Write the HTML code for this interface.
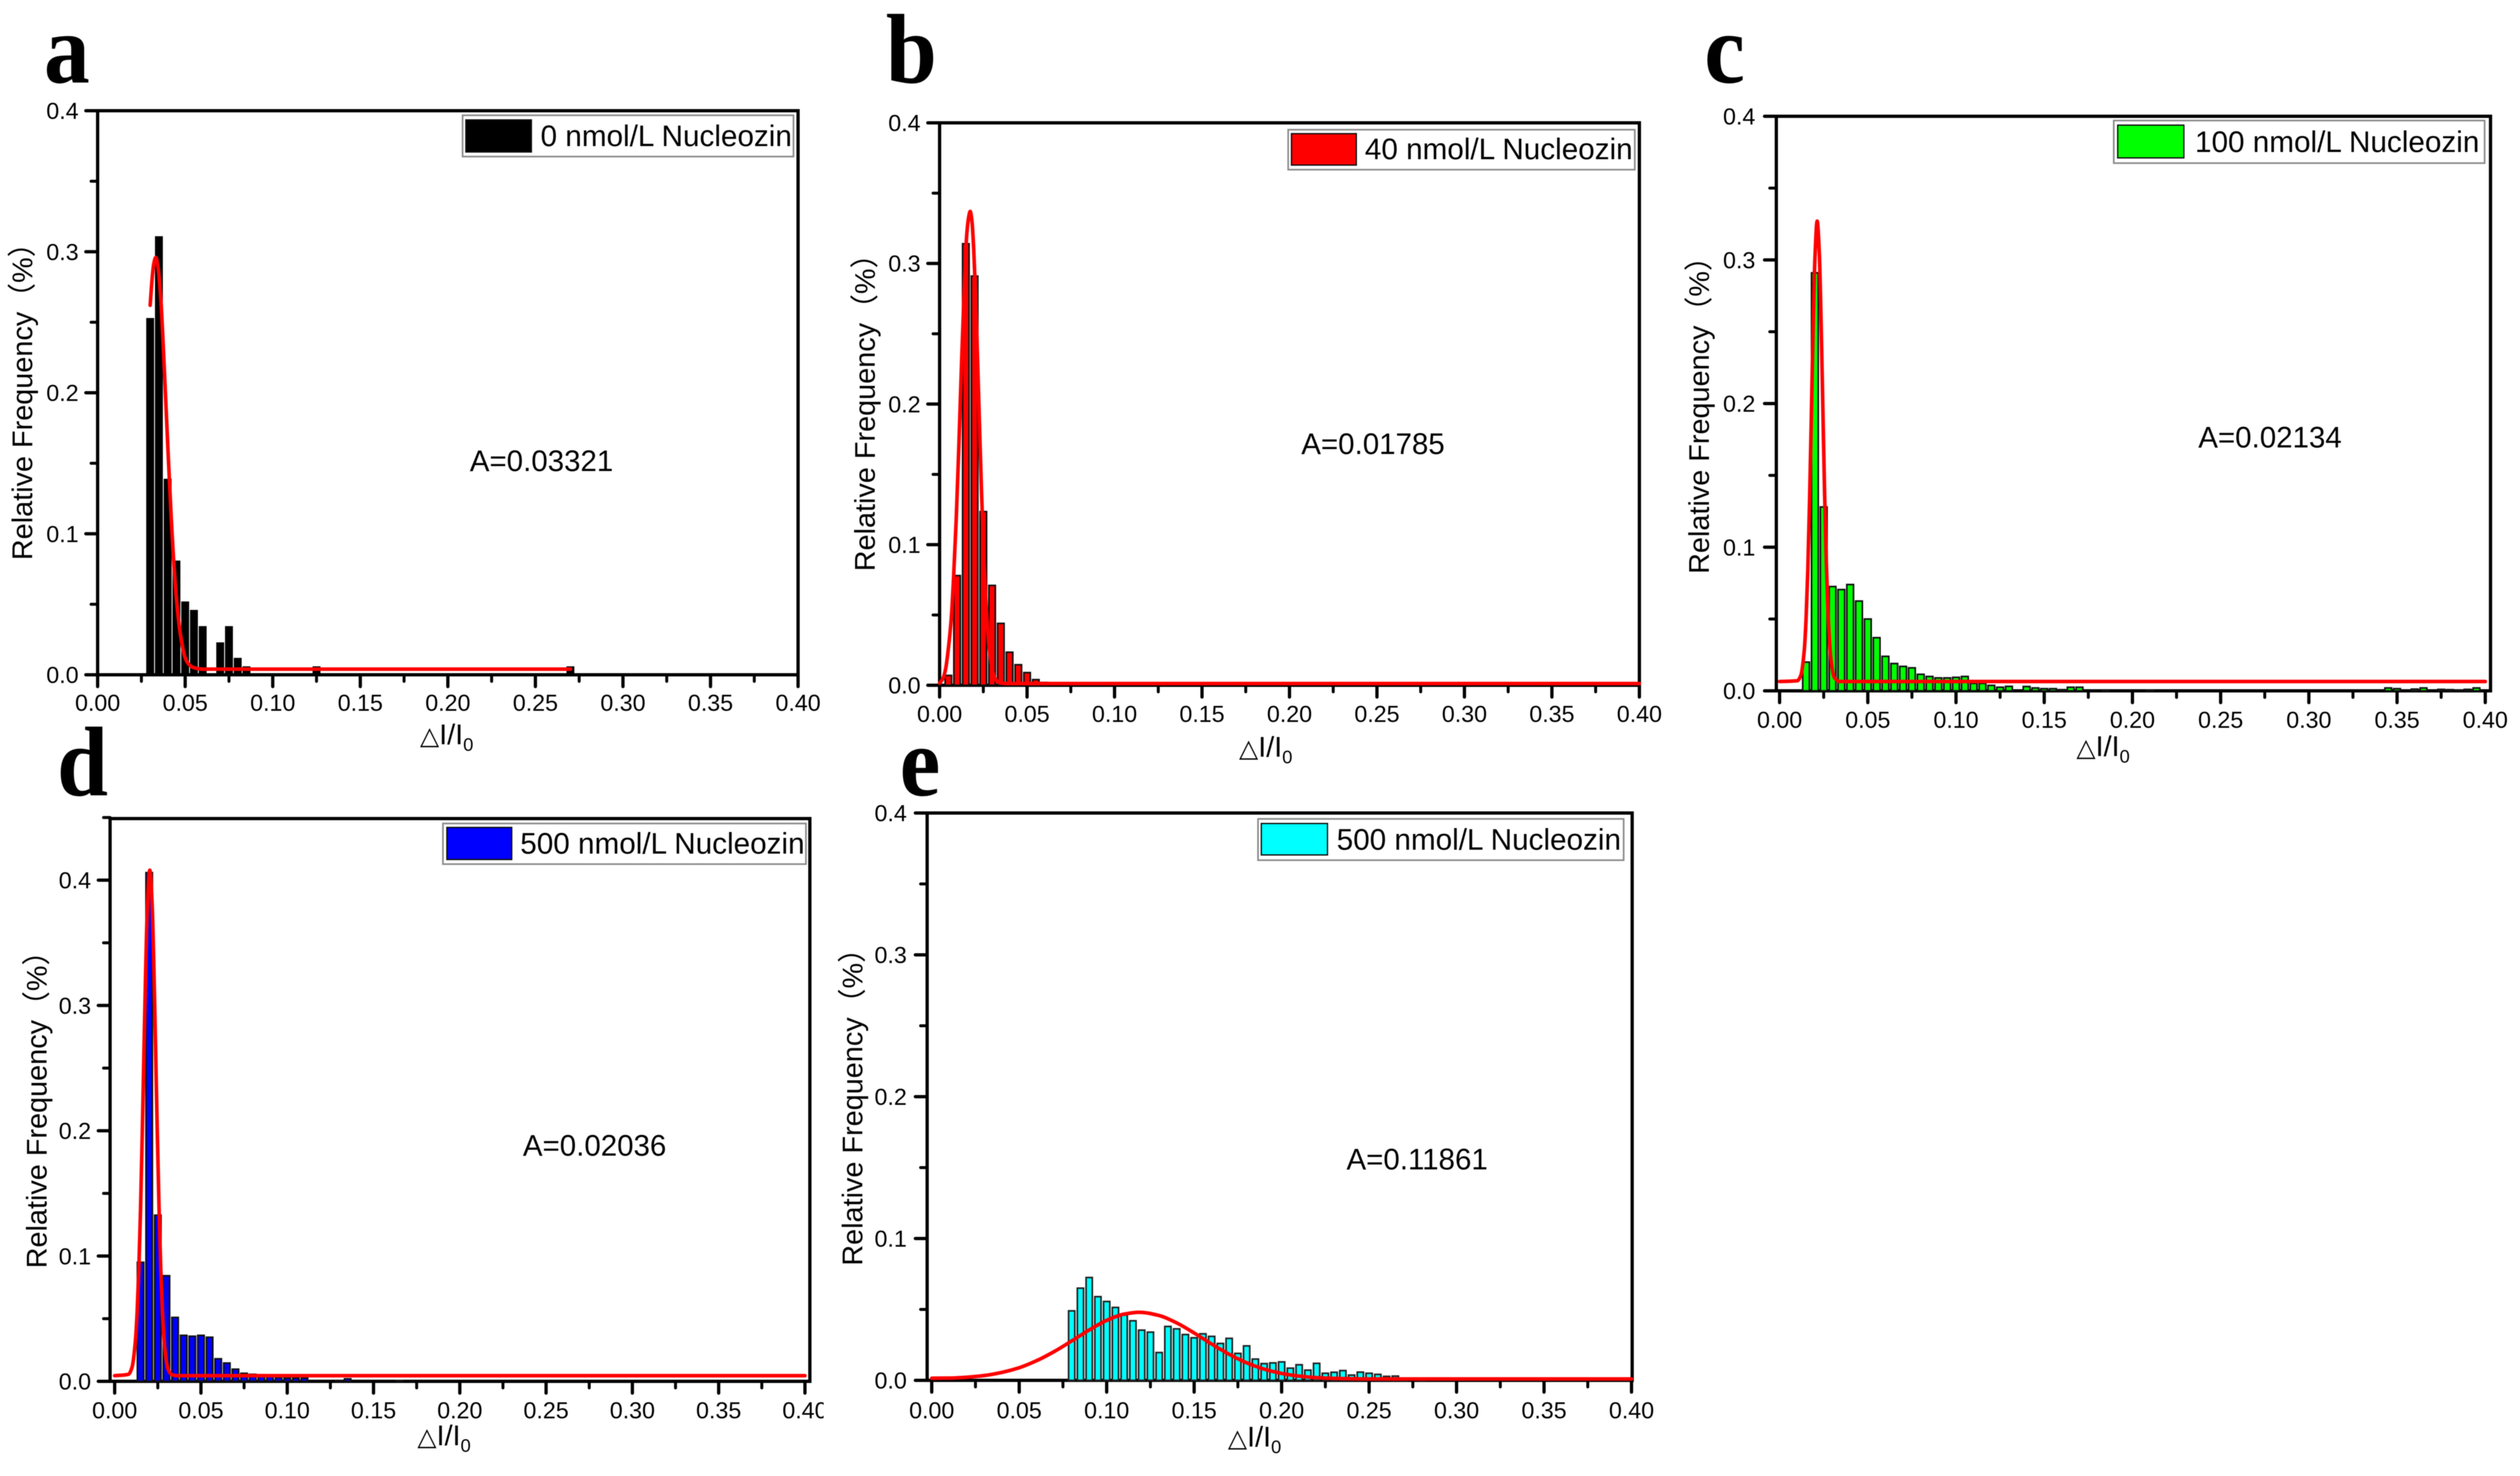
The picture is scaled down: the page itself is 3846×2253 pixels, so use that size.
<!DOCTYPE html>
<html lang="en">
<head>
<meta charset="utf-8">
<title>Relative frequency histograms of delta I / I0 at different Nucleozin concentrations</title>
<style>
html,body{margin:0;padding:0;background:#fff;}
svg{display:block;filter:blur(0.6px);}
text{font-family:"Liberation Sans","Noto Sans CJK SC",sans-serif;fill:#000;}
.letter{font-family:"Liberation Serif",serif;font-weight:bold;font-size:140px;fill:#000;}
.axis-title{font-size:44px;}
.legend-text{font-size:45.3px;}
.note{font-size:45px;}
.tick{font-size:35.5px;}
.sub{font-size:28px;}
.tri{font-family:"DejaVu Sans",sans-serif;font-size:38px;}
.legend-box{fill:#fff;stroke:#8a8a8a;stroke-width:2.5;}
.swatch{stroke:#111;stroke-width:2;}
</style>
</head>
<body>
<svg xmlns="http://www.w3.org/2000/svg" width="3846" height="2253" viewBox="0 0 3846 2253">
<rect x="0" y="0" width="3846" height="2253" fill="#fff"/>

<g>
  <g id="plot-a"></g>
  <text class="letter" transform="translate(67,126) scale(1,1.08)">a</text>
  <text class="axis-title" transform="translate(49,855) rotate(-90)">Relative Frequency（%）</text>
  <text class="axis-title" x="641" y="1136"><tspan class="tri">△</tspan>I/I<tspan class="sub" dy="10">0</tspan></text>
  <rect class="legend-box" x="706" y="176" width="505" height="63"/>
  <rect class="swatch" x="711" y="183" width="100" height="49" fill="#000"/>
  <text class="legend-text" x="825" y="223">0 nmol/L Nucleozin</text>
  <text class="note" x="717" y="719">A=0.03321</text>
</g>

<g>
  <g id="plot-b"></g>
  <text class="letter" transform="translate(1352,126) scale(1,1.08)">b</text>
  <text class="axis-title" transform="translate(1335,872) rotate(-90)">Relative Frequency（%）</text>
  <text class="axis-title" x="1891" y="1155"><tspan class="tri">△</tspan>I/I<tspan class="sub" dy="10">0</tspan></text>
  <rect class="legend-box" x="1966" y="198" width="529" height="61"/>
  <rect class="swatch" x="1971" y="204" width="99" height="48" fill="#ff0000"/>
  <text class="legend-text" x="2083" y="243">40 nmol/L Nucleozin</text>
  <text class="note" x="1986" y="693">A=0.01785</text>
</g>

<g>
  <g id="plot-c"></g>
  <text class="letter" transform="translate(2601,126) scale(1,1.08)">c</text>
  <text class="axis-title" transform="translate(2608,876) rotate(-90)">Relative Frequency（%）</text>
  <text class="axis-title" x="3169" y="1154"><tspan class="tri">△</tspan>I/I<tspan class="sub" dy="10">0</tspan></text>
  <rect class="legend-box" x="3226" y="184" width="566" height="65"/>
  <rect class="swatch" x="3232" y="191" width="101" height="50" fill="#00ff00"/>
  <text class="legend-text" x="3350" y="232">100 nmol/L Nucleozin</text>
  <text class="note" x="3355" y="683">A=0.02134</text>
</g>

<g>
  <g id="plot-d"></g>
  <rect x="1257" y="2125" width="50" height="60" fill="#fff"/>
  <text class="letter" transform="translate(87,1214) scale(1,1.08)">d</text>
  <text class="axis-title" transform="translate(71,1936) rotate(-90)">Relative Frequency（%）</text>
  <text class="axis-title" x="637" y="2206"><tspan class="tri">△</tspan>I/I<tspan class="sub" dy="10">0</tspan></text>
  <rect class="legend-box" x="676" y="1257" width="554" height="62"/>
  <rect class="swatch" x="682" y="1263" width="99" height="49" fill="#0000ff"/>
  <text class="legend-text" x="794" y="1303">500 nmol/L Nucleozin</text>
  <text class="note" x="798" y="1764">A=0.02036</text>
</g>

<g>
  <g id="plot-e"></g>
  <text class="letter" transform="translate(1373,1214) scale(1,1.08)">e</text>
  <text class="axis-title" transform="translate(1316,1932) rotate(-90)">Relative Frequency（%）</text>
  <text class="axis-title" x="1874" y="2208"><tspan class="tri">△</tspan>I/I<tspan class="sub" dy="10">0</tspan></text>
  <rect class="legend-box" x="1920" y="1250" width="558" height="63"/>
  <rect class="swatch" x="1925" y="1257" width="101" height="48" fill="#00ffff"/>
  <text class="legend-text" x="2040" y="1297">500 nmol/L Nucleozin</text>
  <text class="note" x="2055" y="1785">A=0.11861</text>
</g>
</svg>

<script>
// ---- shared axis data ----
const xTickValues = [0, 0.05, 0.10, 0.15, 0.20, 0.25, 0.30, 0.35, 0.40];
const xTickLabels = ['0.00', '0.05', '0.10', '0.15', '0.20', '0.25', '0.30', '0.35', '0.40'];
const xMinorValues = [0.025, 0.075, 0.125, 0.175, 0.225, 0.275, 0.325, 0.375];
const yTickValues = [0, 0.1, 0.2, 0.3, 0.4];
const yTickLabels = ['0.0', '0.1', '0.2', '0.3', '0.4'];
const yMinorValues = [0.05, 0.15, 0.25, 0.35];
const yMinorValuesD = [0.05, 0.15, 0.25, 0.35, 0.45];
const binWidth = 0.005;

// ---- panel a ----
const binsA = [0.03, 0.035, 0.04, 0.045, 0.05, 0.055, 0.06, 0.07, 0.075, 0.08, 0.085, 0.125, 0.27];
const freqA = [0.253, 0.311, 0.139, 0.081, 0.052, 0.046, 0.0345, 0.023, 0.0345, 0.012, 0.006, 0.006, 0.006];
const fitXA = [0.03, 0.031, 0.032, 0.0332, 0.0345, 0.036, 0.038, 0.04, 0.042, 0.044, 0.046, 0.048, 0.05, 0.052, 0.055, 0.06, 0.27];
const fitYA = [0.262, 0.279, 0.291, 0.296, 0.289, 0.268, 0.219, 0.164, 0.112, 0.07, 0.041, 0.023, 0.012, 0.0075, 0.005, 0.004, 0.004];

// ---- panel b ----
const binsB = [0.005, 0.01, 0.015, 0.02, 0.025, 0.03, 0.035, 0.04, 0.045, 0.05, 0.055, 0.06];
const freqB = [0.007, 0.078, 0.314, 0.291, 0.1235, 0.071, 0.044, 0.0235, 0.0146, 0.009, 0.004, 0.002];
const fitXB = [0, 0.002, 0.0035, 0.005, 0.0067, 0.008, 0.0095, 0.011, 0.0125, 0.014, 0.0155, 0.0165, 0.0175, 0.0185, 0.0195, 0.0205, 0.0215, 0.0225, 0.024, 0.0255, 0.027, 0.0285, 0.03, 0.032, 0.035, 0.04, 0.40];
const fitYB = [0.0015, 0.005, 0.012, 0.026, 0.048, 0.077, 0.118, 0.17, 0.227, 0.279, 0.32, 0.332, 0.337, 0.33, 0.31, 0.28, 0.24, 0.198, 0.136, 0.085, 0.048, 0.025, 0.012, 0.004, 0.0015, 0.0012, 0.0012];

// ---- panel c ----
const binsC = [0.015, 0.02, 0.025, 0.03, 0.035, 0.04, 0.045, 0.05, 0.055, 0.06, 0.065, 0.07, 0.075, 0.08, 0.085, 0.09, 0.095, 0.10, 0.105, 0.11, 0.115, 0.12, 0.125, 0.13, 0.14, 0.145, 0.15, 0.155, 0.16, 0.165, 0.17, 0.185, 0.21, 0.345, 0.35, 0.36, 0.365, 0.375, 0.38, 0.385, 0.39, 0.395];
const freqC = [0.02, 0.291, 0.128, 0.0726, 0.0705, 0.074, 0.0625, 0.05, 0.037, 0.024, 0.019, 0.017, 0.016, 0.0115, 0.01, 0.009, 0.009, 0.0094, 0.01, 0.0052, 0.0052, 0.0038, 0.0025, 0.0031, 0.003, 0.002, 0.0015, 0.0015, 0.0008, 0.0025, 0.0025, 0.0006, 0.0005, 0.002, 0.0015, 0.0012, 0.002, 0.001, 0.0008, 0.0006, 0.001, 0.002];
const fitXC = [0, 0.01, 0.012, 0.014, 0.015, 0.016, 0.017, 0.018, 0.019, 0.02, 0.0213, 0.0225, 0.0235, 0.0245, 0.0255, 0.0265, 0.0275, 0.029, 0.031, 0.034, 0.40];
const fitYC = [0.0065, 0.007, 0.0106, 0.0283, 0.05, 0.0844, 0.133, 0.1915, 0.252, 0.3, 0.327, 0.305, 0.258, 0.198, 0.138, 0.089, 0.053, 0.023, 0.0093, 0.0065, 0.0065];

// ---- panel d ----
const binsD = [0.015, 0.02, 0.025, 0.03, 0.035, 0.04, 0.045, 0.05, 0.055, 0.06, 0.065, 0.07, 0.075, 0.08, 0.085, 0.09, 0.095, 0.10, 0.105, 0.11, 0.13, 0.135, 0.165];
const freqD = [0.095, 0.406, 0.1326, 0.0843, 0.051, 0.0367, 0.036, 0.0367, 0.0352, 0.018, 0.0146, 0.0097, 0.0064, 0.0056, 0.0052, 0.005, 0.003, 0.0025, 0.0025, 0.0025, 0.0007, 0.002, 0.0006];
const fitXD = [0, 0.008, 0.01, 0.012, 0.013, 0.014, 0.015, 0.016, 0.017, 0.018, 0.019, 0.02036, 0.0217, 0.0227, 0.0237, 0.0247, 0.0257, 0.0267, 0.0277, 0.029, 0.031, 0.033, 0.036, 0.40];
const fitYD = [0.0045, 0.0056, 0.0109, 0.0319, 0.0546, 0.0892, 0.1377, 0.198, 0.2656, 0.33, 0.38, 0.408, 0.381, 0.331, 0.267, 0.199, 0.139, 0.09, 0.055, 0.027, 0.0095, 0.0055, 0.0045, 0.0045];

// ---- panel e ----
const binsE = [0.08, 0.085, 0.09, 0.095, 0.10, 0.105, 0.11, 0.115, 0.12, 0.125, 0.13, 0.135, 0.14, 0.145, 0.15, 0.155, 0.16, 0.165, 0.17, 0.175, 0.18, 0.185, 0.19, 0.195, 0.20, 0.205, 0.21, 0.215, 0.22, 0.225, 0.23, 0.235, 0.24, 0.245, 0.25, 0.255, 0.26, 0.265, 0.27, 0.28];
const freqE = [0.049, 0.065, 0.0725, 0.059, 0.0556, 0.0514, 0.046, 0.042, 0.0354, 0.034, 0.0196, 0.038, 0.0363, 0.0323, 0.03, 0.0328, 0.031, 0.026, 0.0296, 0.019, 0.0243, 0.015, 0.0118, 0.0123, 0.013, 0.0086, 0.011, 0.0072, 0.012, 0.005, 0.0057, 0.0069, 0.0037, 0.0058, 0.005, 0.0042, 0.0028, 0.003, 0.0015, 0.0015];
const fitXE = [0, 0.01, 0.02, 0.03, 0.04, 0.05, 0.06, 0.07, 0.08, 0.09, 0.10, 0.11, 0.1186, 0.13, 0.14, 0.15, 0.16, 0.17, 0.18, 0.19, 0.20, 0.21, 0.22, 0.23, 0.25, 0.40];
const fitYE = [0.0015, 0.0016, 0.0022, 0.0034, 0.0056, 0.0089, 0.0139, 0.0203, 0.0278, 0.0355, 0.0423, 0.0467, 0.048, 0.0457, 0.0405, 0.0334, 0.0256, 0.0184, 0.0124, 0.0079, 0.0049, 0.003, 0.0019, 0.0014, 0.001, 0.001];

const SVGNS = 'http://www.w3.org/2000/svg';

function make(parent, tag, attrs, text) {
  const el = document.createElementNS(SVGNS, tag);
  Object.keys(attrs).forEach(function (k) { el.setAttribute(k, attrs[k]); });
  if (text !== undefined) el.textContent = text;
  parent.appendChild(el);
  return el;
}

// Monotone cubic path through the read points
function smoothPath(px, py) {
  const n = px.length;
  const dx = [], m = [], t = [];
  for (let i = 0; i < n - 1; i++) {
    dx[i] = px[i + 1] - px[i];
    m[i] = (py[i + 1] - py[i]) / dx[i];
  }
  t[0] = m[0];
  t[n - 1] = m[n - 2];
  for (let i = 1; i < n - 1; i++) {
    if (m[i - 1] * m[i] <= 0) { t[i] = 0; }
    else {
      const a = dx[i - 1] + 2 * dx[i], b = 2 * dx[i - 1] + dx[i];
      t[i] = (a + b) / (a / m[i - 1] + b / m[i]);
    }
  }
  let d = 'M' + px[0].toFixed(2) + ' ' + py[0].toFixed(2);
  for (let i = 0; i < n - 1; i++) {
    const h = dx[i] / 3;
    d += ' C' + (px[i] + h).toFixed(2) + ' ' + (py[i] + t[i] * h).toFixed(2) + ' ' +
      (px[i + 1] - h).toFixed(2) + ' ' + (py[i + 1] - t[i + 1] * h).toFixed(2) + ' ' +
      px[i + 1].toFixed(2) + ' ' + py[i + 1].toFixed(2);
  }
  return d;
}

function drawPanel(g, bins, freq, fitX, fitY, minors) {
  const root = document.getElementById(g.id);
  const sx = function (v) { return g.x0 + v / 0.4 * (g.x1 - g.x0); };
  const sy = function (v) { return g.y0 - v / 0.4 * (g.y0 - g.y4); };

  const frame = make(root, 'rect', { x: g.left, y: g.top, width: g.right - g.left, height: g.y0 - g.top, fill: 'none', stroke: '#000', 'stroke-width': 5 });
  
  

  xTickValues.forEach(function (v, i) {
    const tick = make(root, 'line', { x1: sx(v), x2: sx(v), y1: g.y0, y2: g.y0 + 18, stroke: '#000', 'stroke-width': 5, 'stroke-linecap': 'round' });
    
    
    const label = make(root, 'text', { x: sx(v), y: g.xLabelY, 'text-anchor': 'middle', class: 'tick' }, xTickLabels[i]);
    
    
  });
  xMinorValues.forEach(function (v) {
    const tick = make(root, 'line', { x1: sx(v), x2: sx(v), y1: g.y0, y2: g.y0 + 10, stroke: '#000', 'stroke-width': 4.5, 'stroke-linecap': 'round' });
    
    
  });
  yTickValues.forEach(function (v, i) {
    const tick = make(root, 'line', { x1: g.left, x2: g.left - 18, y1: sy(v), y2: sy(v), stroke: '#000', 'stroke-width': 5, 'stroke-linecap': 'round' });
    
    
    const label = make(root, 'text', { x: g.yLabelX, y: sy(v) + 12.5, 'text-anchor': 'end', class: 'tick' }, yTickLabels[i]);
    
    
  });
  minors.forEach(function (v) {
    const tick = make(root, 'line', { x1: g.left, x2: g.left - 10, y1: sy(v), y2: sy(v), stroke: '#000', 'stroke-width': 4.5, 'stroke-linecap': 'round' });
    
    
  });

  const barPx = sx(binWidth * g.barFrac) - sx(0);
  bins.forEach(function (b, i) {
    const bar = make(root, 'rect', {
      x: sx(b) - barPx / 2, y: sy(freq[i]), width: barPx, height: sy(0) - sy(freq[i]),
      fill: g.fill, stroke: g.barStroke, 'stroke-width': g.barStrokeWidth
    });
    
    
  });

  const curve = make(root, 'path', {
    d: smoothPath(fitX.map(sx), fitY.map(sy)), fill: 'none', stroke: '#ff0000',
    'stroke-width': 5.5, 'stroke-linejoin': 'round', 'stroke-linecap': 'round'
  });
  
  
}

drawPanel({ id: 'plot-a', x0: 149, x1: 1218, y0: 1030, y4: 169, left: 149, right: 1218, top: 169, xLabelY: 1085, yLabelX: 120, fill: '#000', barStroke: 'none', barStrokeWidth: 0, barFrac: 0.9 }, binsA, freqA, fitXA, fitYA, yMinorValues);
drawPanel({ id: 'plot-b', x0: 1434, x1: 2502, y0: 1046, y4: 187.5, left: 1434, right: 2502, top: 187.5, xLabelY: 1102, yLabelX: 1405, fill: '#ff0000', barStroke: '#111', barStrokeWidth: 2.5, barFrac: 0.74 }, binsB, freqB, fitXB, fitYB, yMinorValues);
drawPanel({ id: 'plot-c', x0: 2716, x1: 3793, y0: 1054.5, y4: 177.5, left: 2711, right: 3801, top: 177.5, xLabelY: 1111, yLabelX: 2679, fill: '#00ff00', barStroke: '#111', barStrokeWidth: 2.5, barFrac: 0.76 }, binsC, freqC, fitXC, fitYC, yMinorValues);
drawPanel({ id: 'plot-d', x0: 175, x1: 1228.5, y0: 2108.5, y4: 1343.5, left: 168, right: 1236, top: 1249.5, xLabelY: 2165, yLabelX: 139, fill: '#0000ff', barStroke: '#111', barStrokeWidth: 2.5, barFrac: 0.74 }, binsD, freqD, fitXD, fitYD, yMinorValuesD);
drawPanel({ id: 'plot-e', x0: 1422, x1: 2490, y0: 2107, y4: 1241, left: 1415, right: 2491, top: 1241, xLabelY: 2165, yLabelX: 1384, fill: '#00ffff', barStroke: '#222', barStrokeWidth: 2.5, barFrac: 0.71 }, binsE, freqE, fitXE, fitYE, yMinorValues);
</script>
</body>
</html>
